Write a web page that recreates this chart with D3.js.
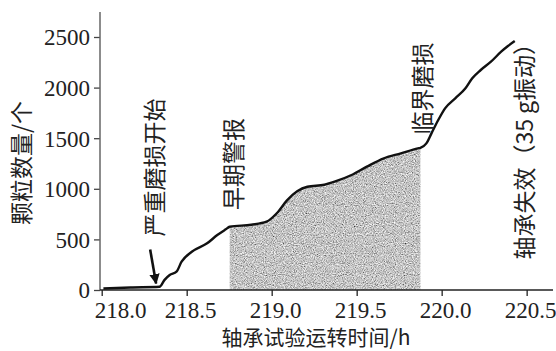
<!DOCTYPE html>
<html>
<head>
<meta charset="utf-8">
<script src="https://cdn.jsdelivr.net/npm/d3@7"></script>
<style>
  html, body { margin: 0; padding: 0; background: #fff; }
  svg { display: block; }
  .cjk { font-family: "Noto Sans CJK SC", sans-serif; fill: #222; }
  svg .num { font-family: "Liberation Serif", "Times New Roman", serif !important; }
</style>
</head>
<body>
<svg id="chart" width="556" height="351"></svg>
<script>
// Bearing run time (h) and particle count
const hours = [218.01, 218.17, 218.34, 218.37, 218.40, 218.44, 218.47, 218.53, 218.62, 218.68,
               218.73, 218.753, 218.88, 218.97, 219.03, 219.09, 219.15, 219.21, 219.31, 219.37,
               219.47, 219.56, 219.66, 219.76, 219.86, 219.875, 219.91, 219.94, 219.98, 220.02,
               220.08, 220.14, 220.18, 220.23, 220.29, 220.35, 220.39, 220.43];
const counts = [15, 25, 32, 100, 148, 181, 280, 378, 461, 543,
                600, 625, 645, 675, 758, 885, 975, 1020, 1040, 1070,
                1136, 1219, 1301, 1350, 1400, 1405, 1449, 1548, 1680, 1795,
                1894, 1993, 2092, 2174, 2256, 2355, 2411, 2460];

// Shaded interval: early warning -> critical wear
const shadeStart = 218.753;
const shadeEnd = 219.875;

const xTicks = [218.0, 218.5, 219.0, 219.5, 220.0, 220.5];
const yTicks = [0, 500, 1000, 1500, 2000, 2500];

const xTitle = "轴承试验运转时间/h";
const yTitle = "颗粒数量/个";
const notes = [
  { text: "严重磨损开始", t: 218.30, v: 1210 },
  { text: "早期警报", t: 218.765, v: 1245 },
  { text: "临界磨损", t: 219.88, v: 1990 },
  { text: "轴承失效（35 g振动）", t: 220.48, v: 1425 }
];
// Arrow marking onset of severe wear
const arrowFrom = { t: 218.285, v: 400 };
const arrowTo = { t: 218.32, v: 65 };

const data = hours.map((t, i) => ({ t, v: counts[i] }));

const svg = d3.select("#chart");
const x = d3.scaleLinear().domain([217.99, 220.655]).range([100, 553]);
const y = d3.scaleLinear().domain([0, 2747]).range([290, 12]);

const defs = svg.append("defs");
const grain = defs.append("filter").attr("id", "grain")
  .attr("x", 0).attr("y", 0).attr("width", 1).attr("height", 1);
grain.append("feTurbulence").attr("type", "fractalNoise")
  .attr("baseFrequency", 0.9).attr("numOctaves", 2).attr("seed", 7).attr("result", "noise");
grain.append("feColorMatrix").attr("in", "noise").attr("type", "matrix")
  .attr("values", "1.3 0 0 0 -0.1  1.3 0 0 0 -0.1  1.3 0 0 0 -0.1  0 0 0 0 1")
  .attr("result", "gray");
grain.append("feComposite").attr("in", "gray").attr("in2", "SourceGraphic").attr("operator", "in");
const marker = defs.append("marker").attr("id", "head")
  .attr("viewBox", "0 0 10 10").attr("refX", 9).attr("refY", 5)
  .attr("markerWidth", 4).attr("markerHeight", 4).attr("markerUnits", "strokeWidth")
  .attr("orient", "auto");
marker.append("path").attr("d", "M0,0 L10,5 L0,10 z").attr("fill", "#111");

// Shaded region under the curve
const shaded = data.filter(d => d.t >= shadeStart - 1e-6 && d.t <= shadeEnd + 1e-6);
const area = d3.area().x(d => x(d.t)).y0(y(0)).y1(d => y(d.v)).curve(d3.curveMonotoneX);
svg.append("path").datum(shaded).attr("d", area)
  .attr("fill", "#999").attr("filter", "url(#grain)");

// Axes
const yAxis = d3.axisLeft(y).tickValues(yTicks).tickSize(6).tickPadding(4).tickFormat(d3.format("d"));
const gy = svg.append("g").attr("transform", "translate(100,0)").call(yAxis)
  .attr("font-family", null).attr("font-size", 23);
gy.select(".domain").remove();
gy.selectAll(".tick line").attr("stroke", "#444").attr("stroke-width", 1.3);
gy.selectAll(".tick text").attr("class", "num").attr("fill", "#222").attr("dy", "0.34em");

const xAxis = d3.axisBottom(x).tickValues(xTicks).tickSize(6).tickPadding(6).tickFormat(d3.format(".1f"));
const gx = svg.append("g").attr("transform", "translate(0,290)").call(xAxis)
  .attr("font-family", null).attr("font-size", 23);
gx.select(".domain").remove();
gx.selectAll(".tick line").attr("stroke", "#222").attr("stroke-width", 1.3);
gx.selectAll(".tick text").attr("class", "num").attr("fill", "#222").attr("dx", "0.15em");
gx.select(".tick text").attr("dx", "0.8em");

svg.append("line").attr("x1", 100).attr("x2", 100).attr("y1", y.range()[1]).attr("y2", y(0))
  .attr("stroke", "#666").attr("stroke-width", 1.5);
svg.append("line").attr("x1", x.range()[0]).attr("x2", x.range()[1]).attr("y1", y(0)).attr("y2", y(0))
  .attr("stroke", "#222").attr("stroke-width", 1.5);

// Particle count curve
const line = d3.line().x(d => x(d.t)).y(d => y(d.v)).curve(d3.curveMonotoneX);
svg.append("path").datum(data).attr("d", line)
  .attr("fill", "none").attr("stroke", "#111").attr("stroke-width", 2.4)
  .attr("stroke-linejoin", "round");

// Arrow
svg.append("line")
  .attr("x1", x(arrowFrom.t)).attr("y1", y(arrowFrom.v))
  .attr("x2", x(arrowTo.t)).attr("y2", y(arrowTo.v))
  .attr("stroke", "#111").attr("stroke-width", 2.6).attr("marker-end", "url(#head)");

// Vertical annotations
notes.forEach(n => {
  svg.append("text").attr("class", "cjk")
    .attr("transform", `translate(${x(n.t)},${y(n.v)}) rotate(-90)`)
    .attr("text-anchor", "middle").attr("dominant-baseline", "central")
    .attr("font-size", 23).text(n.text);
});

// Axis titles
svg.append("text").attr("class", "cjk")
  .attr("transform", "translate(20,163) rotate(-90)")
  .attr("text-anchor", "middle").attr("dominant-baseline", "central")
  .attr("font-size", 23).text(yTitle);
svg.append("text").attr("class", "cjk")
  .attr("x", 316).attr("y", 336)
  .attr("text-anchor", "middle").attr("dominant-baseline", "central")
  .attr("font-size", 21).text(xTitle);
</script>
</body>
</html>
